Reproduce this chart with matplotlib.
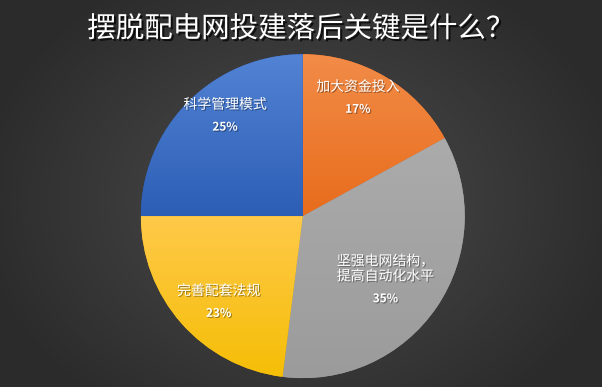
import matplotlib
matplotlib.use("Agg")
import matplotlib.pyplot as plt
import matplotlib.patheffects as pe
from matplotlib.colors import LinearSegmentedColormap
import numpy as np

plt.rcParams['font.family'] = ['Noto Sans CJK SC', 'DejaVu Sans']

title = "摆脱配电网投建落后关键是什么？"
labels = ["加大资金投入", "坚强电网结构，\n提高自动化水平", "完善配套法规", "科学管理模式"]
values = [17, 35, 23, 25]
# top / bottom colour of each slice gradient
top_colors = ["#F28C48", "#ABABAB", "#FFC94A", "#5283D4"]
bot_colors = ["#E86C1C", "#9B9B9B", "#F5BE06", "#2C5EB6"]
# label centres (pie coords, radius 1)
label_pos = [(0.34, 0.70), (0.51, -0.47), (-0.52, -0.56), (-0.48, 0.59)]

fig = plt.figure(figsize=(6.02, 3.87), dpi=100)

# radial dark background
bg = fig.add_axes([0, 0, 1, 1])
yy, xx = np.mgrid[0:387, 0:602]
d = np.sqrt(((xx - 301) / 330.0) ** 2 + ((yy - 200) / 260.0) ** 2)
d = np.clip(d, 0, 1)
bg_cmap = LinearSegmentedColormap.from_list("bg", ["#4d4d4d", "#2b2b2b"])
bg.imshow(d, cmap=bg_cmap, aspect="auto", extent=[0, 1, 0, 1], origin="upper")
bg.set_axis_off()

fig.text(0.5, 0.925, title, ha="center", va="center", color="white",
         fontsize=20.5, fontweight="normal",
         path_effects=[pe.withSimplePatchShadow(offset=(1.5, -1.5), shadow_rgbFace="black", alpha=0.7)])

ax = fig.add_axes([0.234, 0.023, 0.538, 0.837])
wedges, _ = ax.pie(values, startangle=90, counterclock=False, radius=1,
                   colors=bot_colors, wedgeprops=dict(linewidth=0))

grad = np.linspace(0, 1, 256).reshape(-1, 1)
for w, c1, c2 in zip(wedges, top_colors, bot_colors):
    v = w.get_path().vertices
    cm = LinearSegmentedColormap.from_list("g", [c1, c2])
    im = ax.imshow(grad, cmap=cm, aspect="auto", origin="upper",
                   extent=[v[:, 0].min(), v[:, 0].max(), v[:, 1].min(), v[:, 1].max()],
                   zorder=2)
    im.set_clip_path(w)

ax.set_xlim(-1, 1)
ax.set_ylim(-1, 1)
ax.set_aspect("auto")
ax.set_axis_off()

shadow = [pe.withSimplePatchShadow(offset=(0.8, -0.8), shadow_rgbFace="black", alpha=0.35)]
for lab, val, (x, y) in zip(labels, values, label_pos):
    ax.text(x, y + 0.055, lab, ha="center", va="bottom", color="white",
            fontsize=10, linespacing=1.1, zorder=5, path_effects=shadow)
    ax.text(x, y, f"{val}%", ha="center", va="top", color="white",
            fontsize=8.5, fontweight="bold", zorder=5, path_effects=shadow)

fig.savefig("out.png", dpi=100)
